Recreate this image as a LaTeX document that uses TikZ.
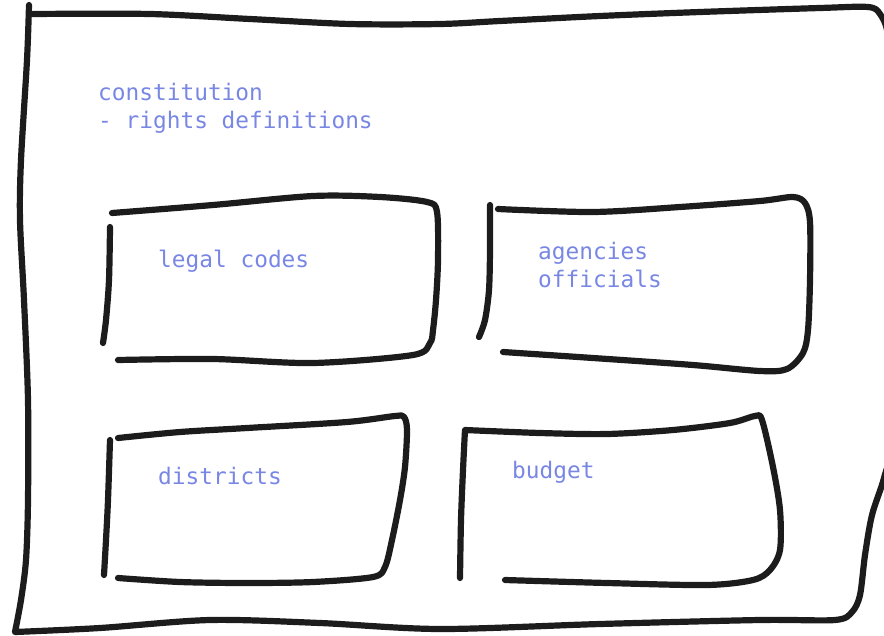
\documentclass[tikz,border=0pt]{standalone}
\usepackage{fontspec}
\newfontfamily\sketchmono{DejaVu Sans Mono}
\definecolor{ink}{RGB}{28,28,28}
\definecolor{note}{RGB}{120,134,228}
\begin{document}
\begin{tikzpicture}[x=1pt,y=-1pt,
  stroke/.style={draw=ink, line width=6.2pt, line cap=round, line join=round},
  label/.style={text=note, font=\sketchmono\fontsize{22.8}{28}\selectfont,
                anchor=base west, inner sep=0pt, align=left}]
\useasboundingbox (0,0) rectangle (884,635);

% outer frame: left edge with a sharp corner at the bottom left, then one loop back to the top left
\draw[stroke] plot[smooth] coordinates {(29,5) (27,60) (21,160) (20,220) (24,300) (28,400) (28,500) (26,560) (21,600) (15,632)}
  -- plot[smooth] coordinates {(15,632) (100,628) (210,620) (320,623) (440,629) (600,624) (760,620) (835,620) (852,612) (860,595) (865,555) (872,515) (884,478) (891,440) (893,300) (893,100) (888,35) (880,14) (868,7) (820,8) (700,12) (600,16) (500,21) (440,24) (350,24) (250,19) (150,14) (32,14)};

% legal codes box
\draw[stroke] plot[smooth] coordinates {(110,227) (109,280) (106,320) (103,343)};
\draw[stroke] plot[smooth] coordinates {(112,213) (213,205) (313,196) (380,197) (427,202) (437,212) (438,260) (436,300) (433,330) (430,343) (413,355) (313,363) (213,359) (118,360)};

% agencies / officials box
\draw[stroke] plot[smooth] coordinates {(490,205) (490,250) (489,290) (485,320) (479,337)};
\draw[stroke] plot[smooth] coordinates {(498,209) (593,212) (680,207) (760,201) (793,197) (805,203) (810,222) (810,280) (808,330) (803,353) (787,369) (760,371) (693,365) (593,358) (503,352)};

% districts box
\draw[stroke] plot[smooth] coordinates {(110,440) (108,500) (106,540) (104,575)};
\draw[stroke] plot[smooth] coordinates {(118,438) (180,432) (247,428) (347,422) (395,416) (404,417) (407,430) (405,467) (400,500) (392,540) (385,567) (373,577) (313,582) (247,583) (180,582) (118,578)};

% budget box
\draw[stroke] plot[smooth] coordinates {(460,578) (461,520) (463,470) (465,430)}
  -- plot[smooth] coordinates {(465,430) (540,433) (607,434) (673,430) (730,423) (755,416) (762,420) (773,467) (780,510) (780,550) (770,570) (753,580) (707,585) (607,583) (505,580)};

% labels (base anchor of a two-line node sits on its last line)
\node[label] (constitution) at (98,128) {constitution\\- rights definitions};
\node[label] (legal) at (158,267) {legal codes};
\node[label] (agencies) at (538,287) {agencies\\officials};
\node[label] (districts) at (158,484) {districts};
\node[label] (budget) at (512,478) {budget};
\end{tikzpicture}
\end{document}
